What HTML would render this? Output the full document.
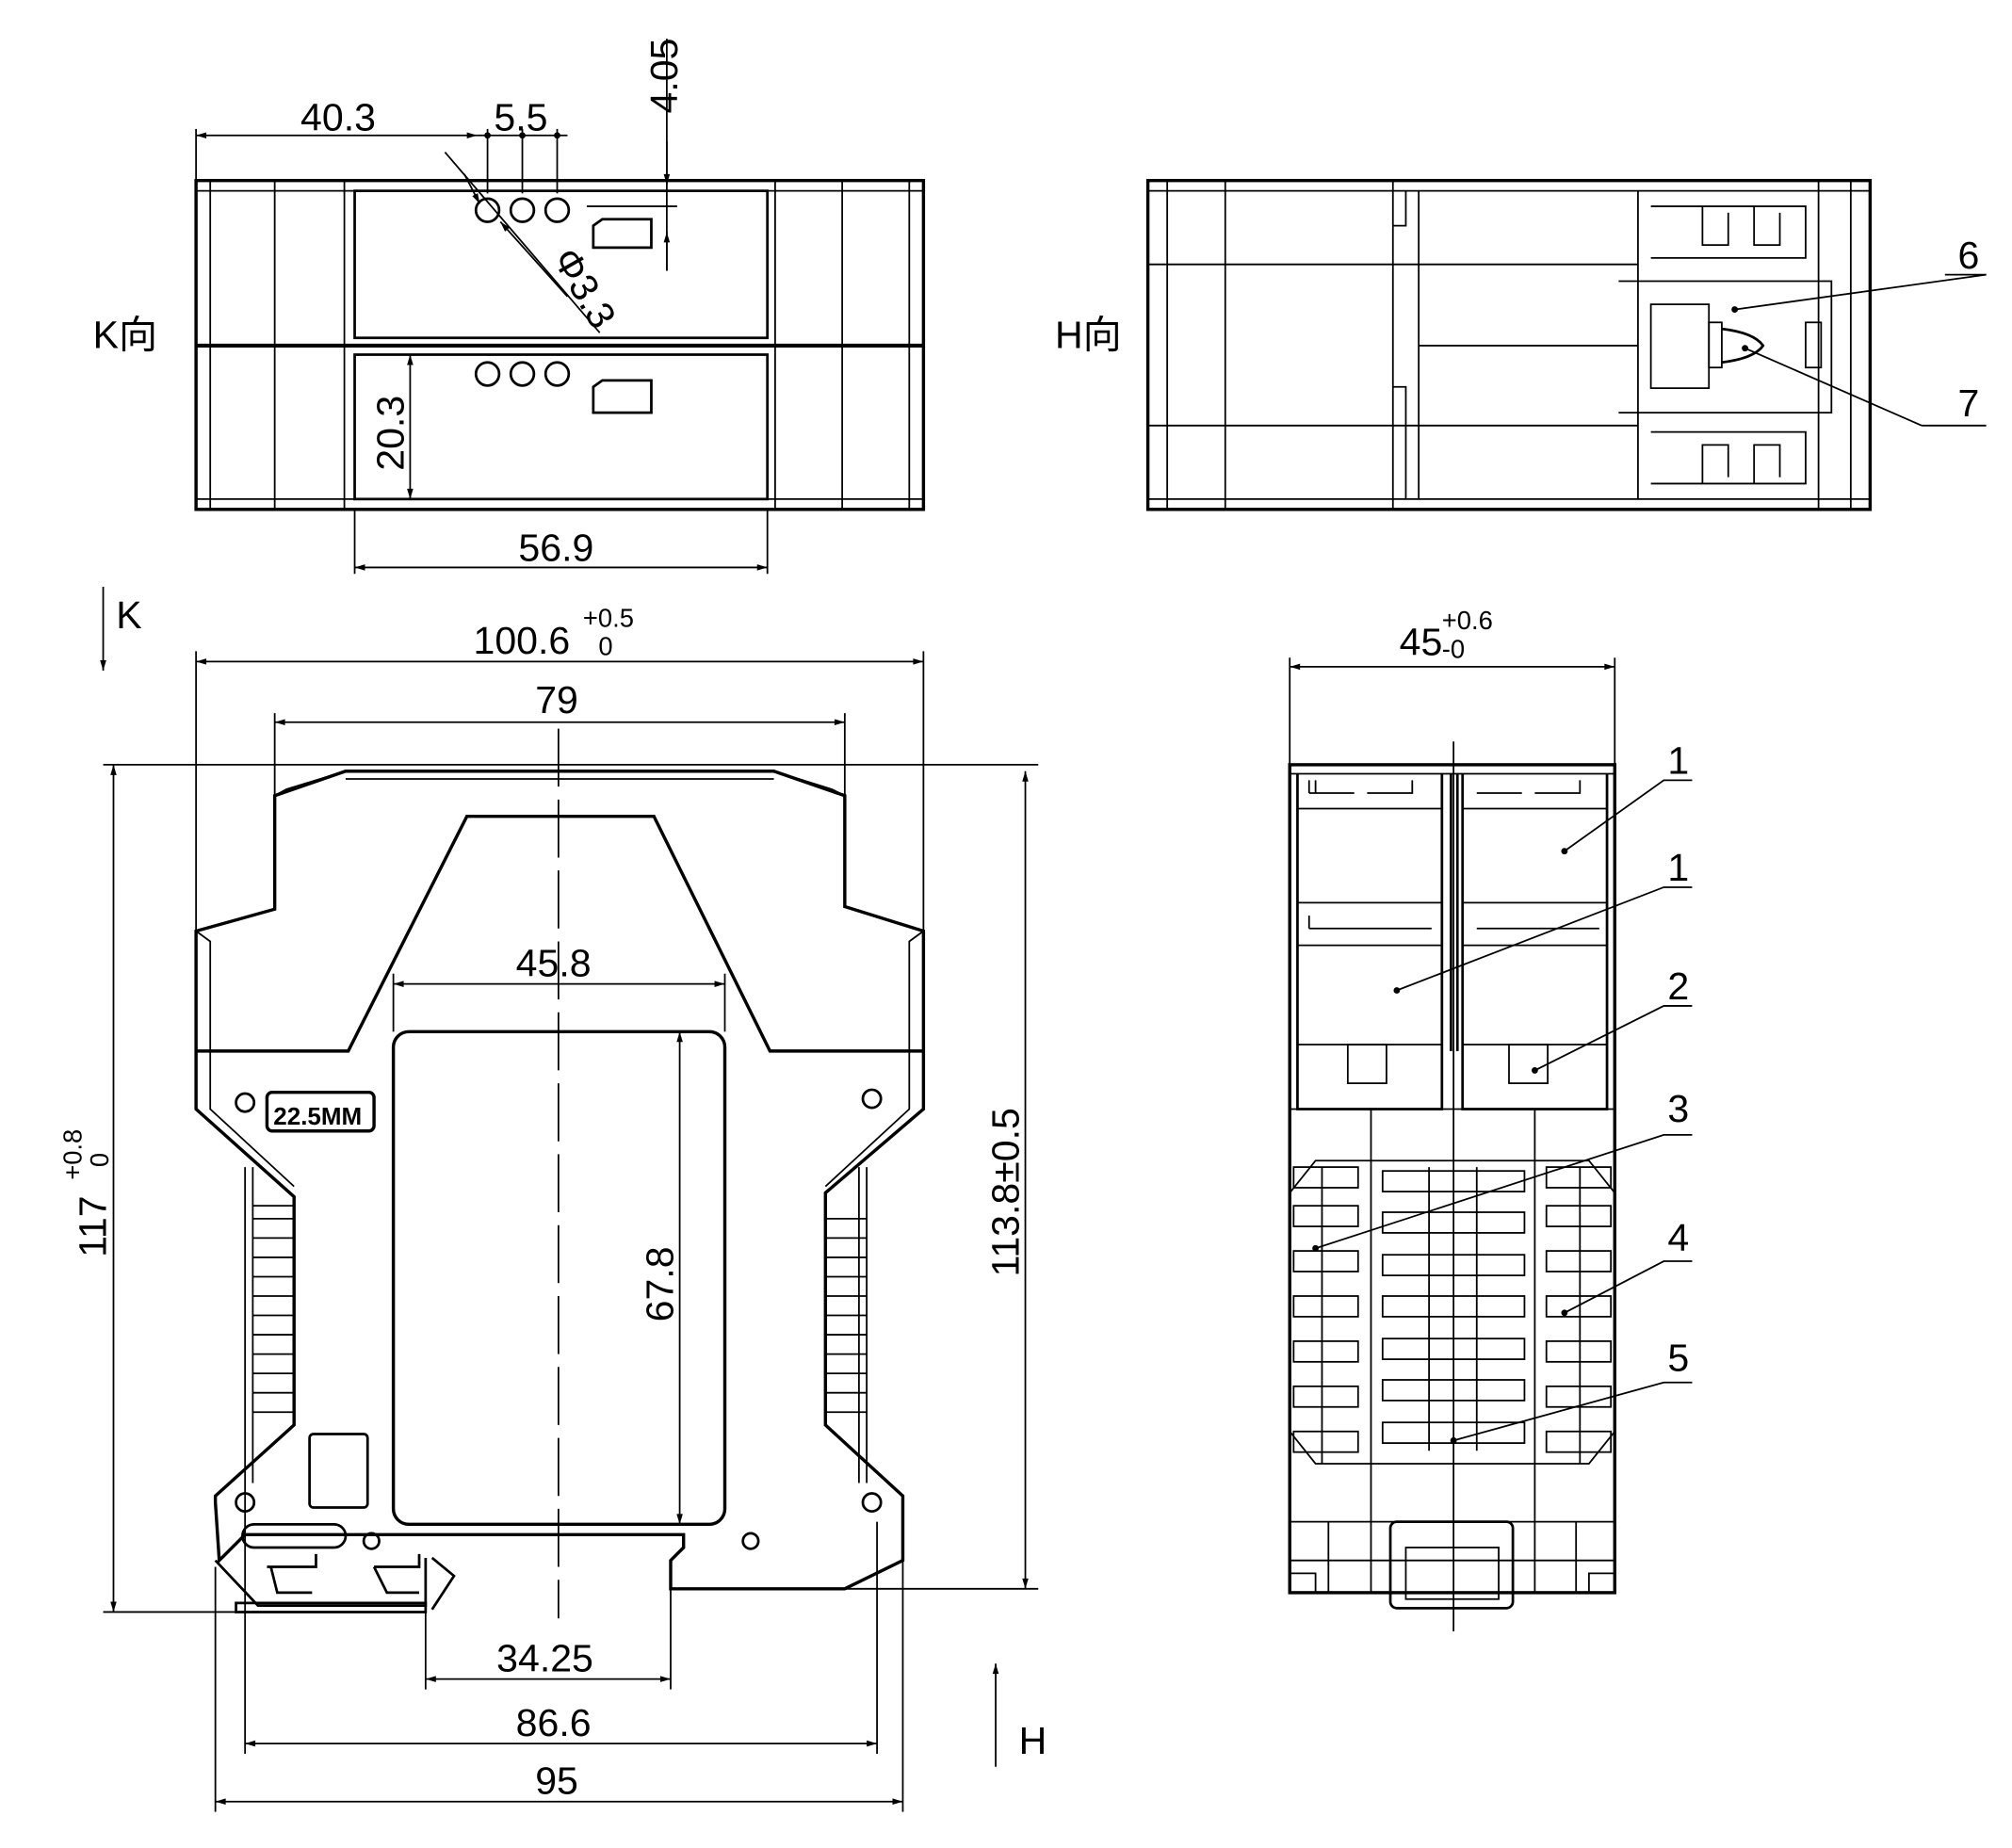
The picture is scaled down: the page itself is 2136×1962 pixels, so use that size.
<!DOCTYPE html>
<html><head><meta charset="utf-8"><style>
html,body{margin:0;padding:0;background:#fff}
svg{display:block}
text{font-family:"Liberation Sans","Noto Sans CJK SC",sans-serif;fill:#000}
</style></head><body>
<svg width="2136" height="1962" viewBox="0 0 1560 1433" preserveAspectRatio="none" xmlns="http://www.w3.org/2000/svg">
<defs><marker id="a" viewBox="0 0 10 10" refX="10" refY="5" markerWidth="14" markerHeight="8" orient="auto-start-reverse" markerUnits="userSpaceOnUse"><path d="M0,2 L10,5 L0,8z" fill="#000"/></marker></defs>
<g fill="none" stroke="#000" stroke-width="1.3">
<!-- K view -->
<rect x="152" y="140" width="564" height="255" stroke-width="2.5"/>
<line x1="152" y1="268" x2="716" y2="268" stroke-width="3"/>
<line x1="152" y1="148" x2="716" y2="148"/><line x1="152" y1="387" x2="716" y2="387"/>
<line x1="163" y1="140" x2="163" y2="395"/><line x1="213" y1="140" x2="213" y2="395"/>
<line x1="267" y1="140" x2="267" y2="395"/><line x1="601" y1="140" x2="601" y2="395"/>
<line x1="653" y1="140" x2="653" y2="395"/><line x1="705" y1="140" x2="705" y2="395"/>
<rect x="275" y="148" width="320" height="114" stroke-width="2"/>
<rect x="275" y="275" width="320" height="112" stroke-width="2"/>
<g stroke-width="2"><circle cx="378" cy="163" r="9"/><circle cx="405" cy="163" r="9"/><circle cx="432" cy="163" r="9"/>
<circle cx="378" cy="290" r="9"/><circle cx="405" cy="290" r="9"/><circle cx="432" cy="290" r="9"/>
<path d="M460,192 V175 L467,170 H505 V192Z"/><path d="M460,320 V300 L467,295 H505 V320Z"/></g>
<line x1="152" y1="100" x2="152" y2="140"/><line x1="378" y1="100" x2="378" y2="150"/><line x1="405" y1="100" x2="405" y2="150"/><line x1="432" y1="100" x2="432" y2="150"/>
<line x1="152" y1="105" x2="370" y2="105" marker-start="url(#a)" marker-end="url(#a)"/>
<line x1="370" y1="105" x2="440" y2="105"/>
<line x1="345" y1="118" x2="465" y2="258"/><line x1="360" y1="135" x2="372" y2="158" marker-end="url(#a)"/><line x1="440" y1="230" x2="388" y2="172" marker-end="url(#a)"/>
<line x1="517" y1="30" x2="517" y2="210"/><line x1="517" y1="110" x2="517" y2="143" marker-end="url(#a)"/><line x1="517" y1="210" x2="517" y2="180" marker-end="url(#a)"/>
<line x1="455" y1="160" x2="525" y2="160"/>
<line x1="318" y1="275" x2="318" y2="387" marker-start="url(#a)" marker-end="url(#a)"/>
<line x1="275" y1="395" x2="275" y2="445"/><line x1="595" y1="395" x2="595" y2="445"/>
<line x1="275" y1="440" x2="595" y2="440" marker-start="url(#a)" marker-end="url(#a)"/>
<!-- H view -->
<rect x="890" y="140" width="560" height="255" stroke-width="2.5"/>
<line x1="890" y1="148" x2="1450" y2="148"/><line x1="890" y1="387" x2="1450" y2="387"/>
<line x1="905" y1="140" x2="905" y2="395"/><line x1="950" y1="140" x2="950" y2="395"/>
<line x1="1080" y1="140" x2="1080" y2="395"/><line x1="1100" y1="148" x2="1100" y2="387"/>
<line x1="1270" y1="148" x2="1270" y2="387"/><line x1="1410" y1="140" x2="1410" y2="395"/><line x1="1435" y1="140" x2="1435" y2="395"/>
<line x1="890" y1="205" x2="1270" y2="205"/><line x1="890" y1="330" x2="1270" y2="330"/><line x1="1100" y1="268" x2="1270" y2="268"/>
<path d="M1080,175 H1090 V148 M1080,300 H1090 V387"/>
<path d="M1255,218 H1420 V320 H1255"/><rect x="1280" y="236" width="45" height="65"/><rect x="1325" y="250" width="10" height="35"/>
<rect x="1400" y="250" width="12" height="35"/>
<path d="M1335,255 q25,3 32,13 q-7,10 -32,13" stroke-width="2"/>
<path d="M1280,160 H1400 V200 H1280 M1320,160 V190 H1340 V165 M1360,160 V190 H1380 V165"/>
<path d="M1280,375 H1400 V335 H1280 M1320,375 V345 H1340 V370 M1360,375 V345 H1380 V370"/>
<line x1="1345" y1="240" x2="1540" y2="213"/><line x1="1353" y1="270" x2="1490" y2="330"/><line x1="1490" y1="330" x2="1540" y2="330"/>
<line x1="1508" y1="213" x2="1540" y2="213"/>
<!-- Front view -->
<path d="M213,617 L268,598 H600 L655,617 V703 L716,722 V860 L640,925 V1105 L700,1160 V1210 L655,1232 H520 V1210 L530,1200 V1190 H190 L170,1210 L167,1165 V1160 L228,1105 V928 L152,860 V722 L213,705Z" stroke-width="2.5"/>
<path d="M213,617 L222,612 L268,598 M655,617 L645,612 L600,598 M268,604 H600"/>
<path d="M152,815 H270 L362,633 H507 L597,815 H716" stroke-width="2.5"/>
<path d="M152,722 L163,730 V860 L228,920 M716,722 L705,730 V860 L640,920"/>
<rect x="305" y="800" width="257" height="382" rx="12" stroke-width="2.5"/>
<line x1="433" y1="565" x2="433" y2="1255" stroke-dasharray="45,10"/>
<circle cx="190" cy="855" r="7" stroke-width="2"/><circle cx="676" cy="852" r="7" stroke-width="2"/>
<circle cx="190" cy="1165" r="7" stroke-width="2"/><circle cx="676" cy="1165" r="7" stroke-width="2"/>
<circle cx="288" cy="1195" r="6" stroke-width="2"/><circle cx="582" cy="1195" r="6" stroke-width="2"/>
<rect x="188" y="1182" width="80" height="18" rx="9" stroke-width="2"/>
<rect x="240" y="1112" width="45" height="57" rx="3" stroke-width="2"/>
<rect x="207" y="847" width="83" height="30" rx="4" stroke-width="2.5"/>
<path d="M190,905 V1150 M196,905 V1150 M228,935 H196 M672,905 V1150 M666,905 V1150"/>
<g id="ribs">
<path d="M196,945 H228 M196,960 H228 M196,975 H228 M196,990 H228 M196,1005 H228 M196,1020 H228 M196,1035 H228 M196,1050 H228 M196,1065 H228 M196,1080 H228 M196,1095 H228"/>
</g>
<path d="M640,945 H672 M640,960 H672 M640,975 H672 M640,990 H672 M640,1005 H672 M640,1020 H672 M640,1035 H672 M640,1050 H672 M640,1065 H672 M640,1080 H672 M640,1095 H672"/>
<path d="M167,1210 L200,1245 H330 V1208 M207,1215 H245 V1205 M290,1215 H325 V1205 M210,1215 L215,1235 H242 M290,1215 L300,1235 H325" stroke-width="2"/>
<path d="M183,1250 H330 V1243 H183Z" stroke-width="2"/>
<path d="M335,1208 L352,1222 L335,1248" stroke-width="2"/>
<!-- front dims -->
<line x1="152" y1="505" x2="152" y2="722"/><line x1="716" y1="505" x2="716" y2="722"/>
<line x1="152" y1="513" x2="716" y2="513" marker-start="url(#a)" marker-end="url(#a)"/>
<line x1="213" y1="553" x2="213" y2="617"/><line x1="655" y1="553" x2="655" y2="617"/>
<line x1="213" y1="560" x2="655" y2="560" marker-start="url(#a)" marker-end="url(#a)"/>
<line x1="80" y1="593" x2="805" y2="593"/><line x1="80" y1="1250" x2="183" y2="1250"/>
<line x1="88" y1="593" x2="88" y2="1250" marker-start="url(#a)" marker-end="url(#a)"/>
<line x1="655" y1="1232" x2="805" y2="1232"/>
<line x1="795" y1="598" x2="795" y2="1232" marker-start="url(#a)" marker-end="url(#a)"/>
<line x1="305" y1="755" x2="305" y2="800"/><line x1="562" y1="755" x2="562" y2="800"/>
<line x1="305" y1="763" x2="562" y2="763" marker-start="url(#a)" marker-end="url(#a)"/>
<line x1="527" y1="800" x2="527" y2="1182" marker-start="url(#a)" marker-end="url(#a)"/>
<line x1="330" y1="1250" x2="330" y2="1310"/><line x1="520" y1="1232" x2="520" y2="1310"/>
<line x1="330" y1="1302" x2="520" y2="1302" marker-start="url(#a)" marker-end="url(#a)"/>
<line x1="190" y1="1150" x2="190" y2="1360"/><line x1="680" y1="1180" x2="680" y2="1360"/>
<line x1="190" y1="1352" x2="680" y2="1352" marker-start="url(#a)" marker-end="url(#a)"/>
<line x1="167" y1="1215" x2="167" y2="1405"/><line x1="700" y1="1210" x2="700" y2="1405"/>
<line x1="167" y1="1397" x2="700" y2="1397" marker-start="url(#a)" marker-end="url(#a)"/>
<line x1="80" y1="455" x2="80" y2="520" marker-end="url(#a)"/>
<line x1="772" y1="1370" x2="772" y2="1290" marker-end="url(#a)"/>
<!-- side view -->
<rect x="1000" y="593" width="252" height="642" stroke-width="2.5"/>
<line x1="1000" y1="600" x2="1252" y2="600"/>
<path d="M1006,600 V860 H1118 V600 M1134,600 V860 H1246 V600" stroke-width="2"/>
<path d="M1125,600 V815 M1130,600 V815" stroke-width="2"/>
<path d="M1006,627 H1118 M1134,627 H1246 M1006,700 H1118 M1134,700 H1246 M1006,733 H1118 M1134,733 H1246 M1006,810 H1118 M1134,810 H1246"/>
<path d="M1015,615 V605 M1020,615 V605 M1015,615 H1050 M1060,615 H1095 V605 M1145,615 H1180 M1190,615 H1225 V605 M1015,720 V710 M1015,720 H1110 M1145,720 H1240"/>
<rect x="1045" y="810" width="30" height="30"/><rect x="1170" y="810" width="30" height="30"/>
<line x1="1000" y1="860" x2="1252" y2="860"/>
<path d="M1063,860 V1235 M1190,860 V1235"/>
<path d="M1000,925 L1020,900 H1232 L1252,925 M1000,1110 L1020,1135 H1232 L1252,1110"/>
<path d="M1025,905 V1135 M1225,905 V1135"/>
<g id="sr"><rect x="1003" y="935" width="50" height="16"/><rect x="1003" y="970" width="50" height="16"/><rect x="1003" y="1005" width="50" height="16"/><rect x="1003" y="1040" width="50" height="16"/><rect x="1003" y="1075" width="50" height="16"/><rect x="1003" y="1110" width="50" height="16"/><rect x="1003" y="905" width="50" height="16"/></g>
<use href="#sr" x="196"/>
<g id="mr"><rect x="1072" y="908" width="110" height="16"/><rect x="1072" y="940" width="110" height="16"/><rect x="1072" y="973" width="110" height="16"/><rect x="1072" y="1005" width="110" height="16"/><rect x="1072" y="1038" width="110" height="16"/><rect x="1072" y="1070" width="110" height="16"/><rect x="1072" y="1103" width="110" height="16"/></g>
<line x1="1108" y1="905" x2="1108" y2="1125"/><line x1="1145" y1="905" x2="1145" y2="1125"/>
<line x1="1127" y1="575" x2="1127" y2="1265"/>
<path d="M1000,1180 H1252 M1000,1210 H1252 M1030,1180 V1235 M1222,1180 V1235"/>
<rect x="1078" y="1180" width="95" height="67" rx="5" stroke-width="2"/><rect x="1090" y="1200" width="72" height="40"/>
<path d="M1000,1220 H1020 V1235 M1252,1220 H1232 V1235"/>
<line x1="1000" y1="510" x2="1000" y2="593"/><line x1="1252" y1="510" x2="1252" y2="593"/>
<line x1="1000" y1="517" x2="1252" y2="517" marker-start="url(#a)" marker-end="url(#a)"/>
<!-- leaders -->
<path d="M1213,660 L1290,605 H1312 M1083,768 L1290,688 H1312 M1190,830 L1290,780 H1312 M1020,968 L1290,880 H1312 M1213,1018 L1290,978 H1312 M1127,1117 L1290,1072 H1312"/>
</g>
<g fill="#000"><circle cx="1213" cy="660" r="2.5"/><circle cx="1083" cy="768" r="2.5"/><circle cx="1190" cy="830" r="2.5"/><circle cx="1020" cy="968" r="2.5"/><circle cx="1213" cy="1018" r="2.5"/><circle cx="1127" cy="1117" r="2.5"/><circle cx="1345" cy="240" r="2.5"/><circle cx="1353" cy="270" r="2.5"/><circle cx="378" cy="105" r="2.5"/><circle cx="405" cy="105" r="2.5"/><circle cx="432" cy="105" r="2.5"/></g>
<g font-size="30">
<text x="233" y="101">40.3</text><text x="383" y="101">5.5</text>
<text transform="translate(525,88) rotate(-90)">4.05</text>
<text transform="translate(428,200) rotate(60)">Φ3.3</text>
<text transform="translate(313,365) rotate(-90)">20.3</text>
<text x="402" y="435">56.9</text>
<text x="72" y="270">K向</text><text x="818" y="270">H向</text>
<text x="1518" y="208">6</text><text x="1518" y="323">7</text>
<text x="90" y="487">K</text><text x="790" y="1360">H</text>
<text x="367" y="507">100.6</text><text x="452" y="486" font-size="20">+0.5</text><text x="464" y="508" font-size="20">0</text>
<text x="415" y="553">79</text>
<text x="400" y="757">45.8</text>
<text transform="translate(522,1025) rotate(-90)">67.8</text>
<text transform="translate(82,975) rotate(-90)">117</text><text transform="translate(63,915) rotate(-90)" font-size="20">+0.8</text><text transform="translate(84,905) rotate(-90)" font-size="20">0</text>
<text transform="translate(790,990) rotate(-90)">113.8±0.5</text>
<text x="385" y="1296">34.25</text><text x="400" y="1346">86.6</text><text x="415" y="1391">95</text>
<text x="1085" y="508">45</text><text x="1118" y="488" font-size="20">+0.6</text><text x="1118" y="510" font-size="20">-0</text>
<text x="1293" y="600">1</text><text x="1293" y="683">1</text><text x="1293" y="775">2</text><text x="1293" y="870">3</text><text x="1293" y="970">4</text><text x="1293" y="1063">5</text>
<text x="212" y="872" font-size="19" font-weight="bold">22.5MM</text>
</g>
</svg>
</body></html>
